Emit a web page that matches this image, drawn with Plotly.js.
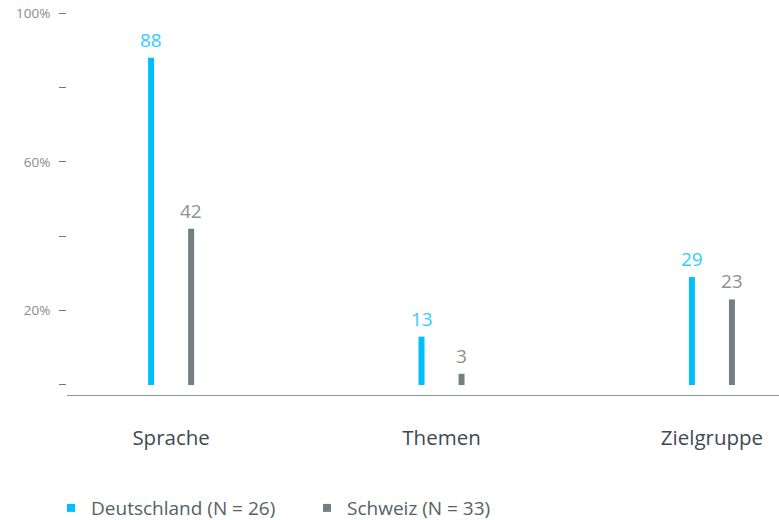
<!DOCTYPE html>
<html>
<head>
<meta charset="utf-8">
<script src="https://cdn.plot.ly/plotly-3.0.1.min.js"></script>
<style>html,body{margin:0;padding:0;background:#fff;}#chart{width:779px;height:520px;}</style>
</head>
<body>
<div id="chart"></div>
<script>
var categories = ["Sprache", "Themen", "Zielgruppe"];
var deutschland = [88, 13, 29];
var schweiz = [42, 3, 23];
var seriesNames = ["Deutschland (N = 26)", "Schweiz (N = 33)"];
var yTickVals = [0, 20, 40, 60, 80, 100];
var yTickText = ["", "20%", "", "60%", "", "100%"];

var blue = "#00bfff", gray = "#747f84";
var font = "Open Sans, Lato, sans-serif";

var traces = [
  {type: "bar", x: categories, y: deutschland, name: seriesNames[0], marker: {color: blue},
   showlegend: false, hoverinfo: "none"},
  {type: "bar", x: categories, y: schweiz, name: seriesNames[1], marker: {color: gray},
   showlegend: false, hoverinfo: "none"},
  {type: "scatter", mode: "markers", x: [null], y: [null], name: seriesNames[0],
   marker: {symbol: "square", size: 8, color: blue}},
  {type: "scatter", mode: "markers", x: [null], y: [null], name: seriesNames[1],
   marker: {symbol: "square", size: 8, color: gray}}
];

var annotations = [];
var series = [{vals: deutschland, color: "#33ccff", shift: -20}, {vals: schweiz, color: "#8a9296", shift: 20}];
series.forEach(function (s) {
  categories.forEach(function (c, i) {
    annotations.push({x: c, y: s.vals[i], xref: "x", yref: "y", text: String(s.vals[i]),
      showarrow: false, xshift: s.shift, yshift: 3, yanchor: "bottom",
      font: {size: 19, color: s.color, family: font}});
  });
});

var layout = {
  width: 779, height: 520,
  margin: {l: 67, r: 0, t: 5, b: 125},
  paper_bgcolor: "#fff", plot_bgcolor: "#fff",
  barmode: "group", bargap: 0.704, bargroupgap: 0.85,
  font: {family: font},
  annotations: annotations,
  xaxis: {type: "category", range: [-0.385, 2.248], showgrid: false, zeroline: false,
    showline: true, linecolor: "#8a969c", linewidth: 1, ticks: "",
    tickfont: {size: 20.5, color: "#3d4a52", family: font}, ticklabelstandoff: 24},
  yaxis: {range: [-2.69, 102.15], showgrid: false, zeroline: false, showline: false,
    tickvals: yTickVals, ticktext: yTickText, ticks: "outside", ticklen: 7,
    tickcolor: "#777", tickwidth: 1, ticklabelstandoff: 6,
    tickfont: {size: 13.5, color: "#8a8a8a", family: font}},
  showlegend: true,
  legend: {orientation: "h", xref: "container", x: 0.0655, xanchor: "left",
    yref: "container", y: 0.023, yanchor: "middle",
    font: {size: 19, color: "#555f66", family: font}, entrywidth: 211, entrywidthmode: "pixels",
    itemclick: false}
};

Plotly.newPlot("chart", traces, layout, {staticPlot: true});
</script>
</body>
</html>
